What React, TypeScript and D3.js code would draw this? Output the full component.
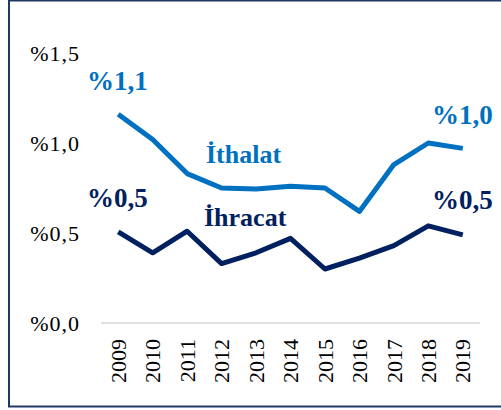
import React, { useEffect, useRef } from 'react';
import * as d3 from 'd3';

const years = ['2009', '2010', '2011', '2012', '2013', '2014', '2015', '2016', '2017', '2018', '2019'];
const ithalat = [1.16, 1.02, 0.83, 0.75, 0.745, 0.76, 0.75, 0.62, 0.88, 1.0, 0.97];
const ihracat = [0.506, 0.39, 0.51, 0.33, 0.39, 0.47, 0.3, 0.36, 0.43, 0.54, 0.49];
// end labels as printed on the chart (first / last year)
const ithalatLabels = ['%1,1', '%1,0'];
const ihracatLabels = ['%0,5', '%0,5'];
const yTicks = [0, 0.5, 1.0, 1.5];

const LIGHT = '#0070C0';
const DARK = '#002060';
const FONT = '"Liberation Serif", "Times New Roman", serif';

const fmt = (v: number) => '%' + v.toFixed(1).replace('.', ',');

export default function App() {
  const ref = useRef<SVGSVGElement | null>(null);

  useEffect(() => {
    const svg = d3.select(ref.current);
    svg.selectAll('*').remove();

    const x = d3.scaleBand().domain(years).range([101, 480]);
    const y = d3.scaleLinear().domain([0, 1.5]).range([323, 53]);
    const cx = (d: string) => (x(d) as number) + x.bandwidth() / 2;

    // frame
    svg.append('rect')
      .attr('x', 9).attr('y', 0.5)
      .attr('width', 520).attr('height', 406)
      .attr('fill', 'white')
      .attr('stroke', '#1F3864')
      .attr('stroke-width', 2);

    // y tick labels
    svg.append('g').selectAll('text')
      .data(yTicks)
      .enter().append('text')
      .attr('x', 80)
      .attr('y', d => y(d))
      .attr('dy', '0.35em')
      .attr('text-anchor', 'end')
      .style('font-family', FONT)
      .style('font-size', '22px')
      .style('letter-spacing', '1px')
      .text(d => fmt(d));

    // baseline
    svg.append('line')
      .attr('x1', 101).attr('x2', 480)
      .attr('y1', y(0)).attr('y2', y(0))
      .attr('stroke', '#d9d9d9')
      .attr('stroke-width', 1.5);

    // x labels
    svg.append('g').selectAll('text')
      .data(years)
      .enter().append('text')
      .attr('transform', d => 'translate(' + cx(d) + ',339) rotate(-90)')
      .attr('dy', '0.35em')
      .attr('text-anchor', 'end')
      .style('font-family', FONT)
      .style('font-size', '22px')
      .text(d => d);

    const line = d3.line<number>()
      .x((d, i) => cx(years[i]))
      .y(d => y(d));

    [[ithalat, LIGHT], [ihracat, DARK]].forEach(([vals, color]) => {
      svg.append('path')
        .datum(vals as number[])
        .attr('d', line)
        .attr('fill', 'none')
        .attr('stroke', color as string)
        .attr('stroke-width', 5)
        .attr('stroke-linejoin', 'round');
    });

    const label = (tx: number, ty: number, t: string, color: string, size: number) => {
      svg.append('text')
        .attr('x', tx).attr('y', ty)
        .attr('fill', color)
        .style('font-family', FONT)
        .style('font-weight', 'bold')
        .style('font-size', size + 'px')
        .text(t);
    };

    label(87, 90, ithalatLabels[0], LIGHT, 27);
    label(432, 124, ithalatLabels[1], LIGHT, 27);
    label(87, 207, ihracatLabels[0], DARK, 27);
    label(432, 209, ihracatLabels[1], DARK, 27);
    label(206, 163, 'İthalat', LIGHT, 26);
    label(204, 226, 'İhracat', DARK, 26);
  }, []);

  return (
    <svg ref={ref} width={501} height={410}
      style={{ position: 'absolute', left: 0, top: 0, display: 'block' }} />
  );
}
